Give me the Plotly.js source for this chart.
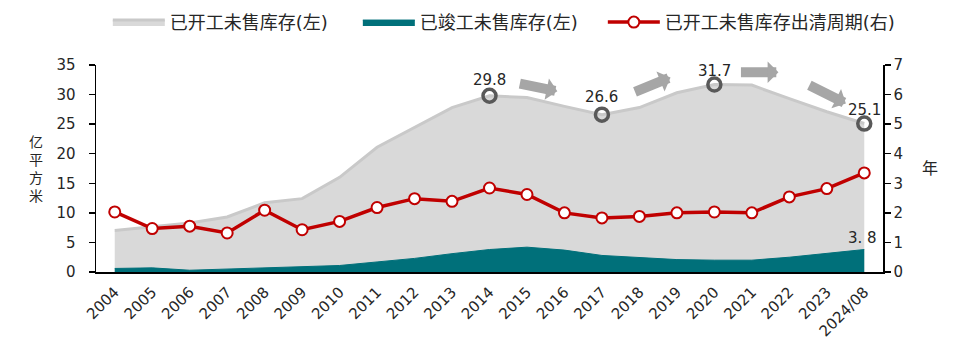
<!DOCTYPE html>
<html>
<head>
<meta charset="utf-8">
<script src="https://cdn.plot.ly/plotly-3.0.1.min.js"></script>
<style>html,body{margin:0;padding:0;background:#fff;}#chart{width:960px;height:351px;}</style>
</head>
<body>
<div id="chart"></div>
<script>
// ---- data ----
const categories = ['2004','2005','2006','2007','2008','2009','2010','2011','2012','2013','2014','2015','2016','2017','2018','2019','2020','2021','2022','2023','2024/08'];
const startedUnsold = [7.0,7.6,8.3,9.3,11.7,12.4,16.0,21.1,24.5,27.8,29.8,29.5,28.0,26.6,27.8,30.3,31.7,31.6,29.3,27.1,25.1];
const completedUnsold = [0.6,0.7,0.3,0.5,0.8,1.0,1.1,1.7,2.3,3.1,3.8,4.2,3.7,2.8,2.4,2.1,2.0,2.0,2.5,3.1,3.8];
const clearanceCycle = [2.03,1.47,1.55,1.32,2.09,1.43,1.71,2.18,2.48,2.39,2.84,2.62,2.00,1.83,1.88,2.00,2.03,2.00,2.54,2.82,3.35];
const highlightCats = ['2014','2017','2020','2024/08'];
const highlightVals = [29.8,26.6,31.7,25.1];
const lastCompletedLabel = '3. 8';
const leftTicks = [0,5,10,15,20,25,30,35];
const rightTicks = [0,1,2,3,4,5,6,7];

const NUM = 'DejaVu Sans, Noto Sans CJK SC, sans-serif';
const CJK = 'DejaVu Sans, Noto Sans CJK SC, sans-serif';
const TXT = '#262626';

const traces = [
  {x: categories, y: startedUnsold, type: 'scatter', mode: 'lines', name: '已开工未售库存(左)', legend: 'legend',
   fill: 'tozeroy', fillcolor: '#d9d9d9', line: {color: '#c9c9c9', width: 3}, hoverinfo: 'skip'},
  {x: categories, y: completedUnsold, type: 'scatter', mode: 'lines', name: '已竣工未售库存(左)', legend: 'legend2',
   fill: 'tozeroy', fillcolor: '#00707a', line: {color: '#00707a', width: 1}, hoverinfo: 'skip'},
  {x: categories, y: clearanceCycle, type: 'scatter', mode: 'lines+markers', name: '已开工未售库存出清周期(右)', legend: 'legend3',
   yaxis: 'y2', line: {color: '#c00000', width: 3.5},
   marker: {size: 11, color: '#ffffff', line: {color: '#c00000', width: 2}}},
  {x: highlightCats, y: highlightVals, type: 'scatter', mode: 'markers', showlegend: false,
   marker: {size: 13, color: 'rgba(0,0,0,0)', line: {color: '#595959', width: 3.5}}}
];

const annotations = [];
const labelShift = [16, 18, 14, 14];
highlightCats.forEach((c, i) => {
  annotations.push({x: categories.indexOf(c), y: highlightVals[i], xref: 'x', yref: 'y', text: highlightVals[i].toFixed(1),
    showarrow: false, yshift: labelShift[i], yanchor: 'middle', font: {family: NUM, size: 15, color: TXT}});
});
annotations.push({x: categories.length - 1, y: completedUnsold[completedUnsold.length - 1], xref: 'x', yref: 'y',
  text: lastCompletedLabel, showarrow: false, yanchor: 'bottom', yshift: 1, xshift: -2,
  font: {family: NUM, size: 15, color: TXT}});

// decorative block arrows
const arrows = [
  {x: 11.81, y: 30.55, ax: -39, ay: -8},
  {x: 14.83, y: 32.9, ax: -37, ay: 15},
  {x: 17.71, y: 33.77, ax: -39, ay: 0},
  {x: 19.51, y: 28.5, ax: -38, ay: -19}
];
arrows.forEach(a => annotations.push({x: a.x, y: a.y, xref: 'x', yref: 'y', ax: a.ax, ay: a.ay,
  axref: 'pixel', ayref: 'pixel', text: '', showarrow: true, arrowhead: 1, arrowsize: 0.36,
  arrowwidth: 10, arrowcolor: '#a6a6a6', standoff: 0}));

// axis titles
const leftTitle = ['亿','平','方','米'];
const leftTitleY = [0.6266, 0.5396, 0.4527, 0.3657];
leftTitle.forEach((ch, i) => annotations.push({x: -0.076, y: leftTitleY[i], xref: 'paper', yref: 'paper',
  xanchor: 'center', yanchor: 'middle',
  text: ch, showarrow: false, font: {family: CJK, size: 14, color: TXT}}));
annotations.push({x: 1.0597, y: 0.501, xref: 'paper', yref: 'paper', xanchor: 'center', yanchor: 'middle',
  text: '年', showarrow: false, font: {family: CJK, size: 16, color: TXT}});

const legendBase = {orientation: 'h', y: 1.206, xanchor: 'left', yanchor: 'middle',
  font: {family: CJK, size: 18, color: TXT}, itemwidth: 52, bgcolor: 'rgba(0,0,0,0)'};

const layout = {
  width: 960, height: 351,
  margin: {l: 96, r: 77, t: 65, b: 79, autoexpand: false},
  paper_bgcolor: '#ffffff', plot_bgcolor: '#ffffff',
  showlegend: true,
  legend: Object.assign({}, legendBase, {x: 0.015}),
  legend2: Object.assign({}, legendBase, {x: 0.3327}),
  legend3: Object.assign({}, legendBase, {x: 0.644}),
  xaxis: {type: 'category', range: [-0.5, 20.5], showgrid: false, zeroline: false,
    showline: true, linecolor: '#000', linewidth: 1.5, ticks: '', tickangle: -45,
    tickfont: {family: NUM, size: 15, color: TXT}, ticklabelstandoff: 4, fixedrange: true},
  yaxis: {range: [0, 35], tickvals: leftTicks, showgrid: false, zeroline: false,
    showline: true, linecolor: '#000', linewidth: 1.5, ticks: 'outside', ticklen: 6, tickcolor: '#000', tickwidth: 1.5,
    tickfont: {family: NUM, size: 15, color: TXT}, ticklabelstandoff: 10},
  yaxis2: {range: [0, 7], tickvals: rightTicks, overlaying: 'y', side: 'right', showgrid: false, zeroline: false,
    showline: true, linecolor: '#000', linewidth: 1.5, ticks: 'outside', ticklen: 6, tickcolor: '#000', tickwidth: 1.5,
    tickfont: {family: NUM, size: 15, color: TXT}},
  annotations: annotations
};

Plotly.newPlot('chart', traces, layout, {displayModeBar: false, staticPlot: true});
</script>
</body>
</html>
